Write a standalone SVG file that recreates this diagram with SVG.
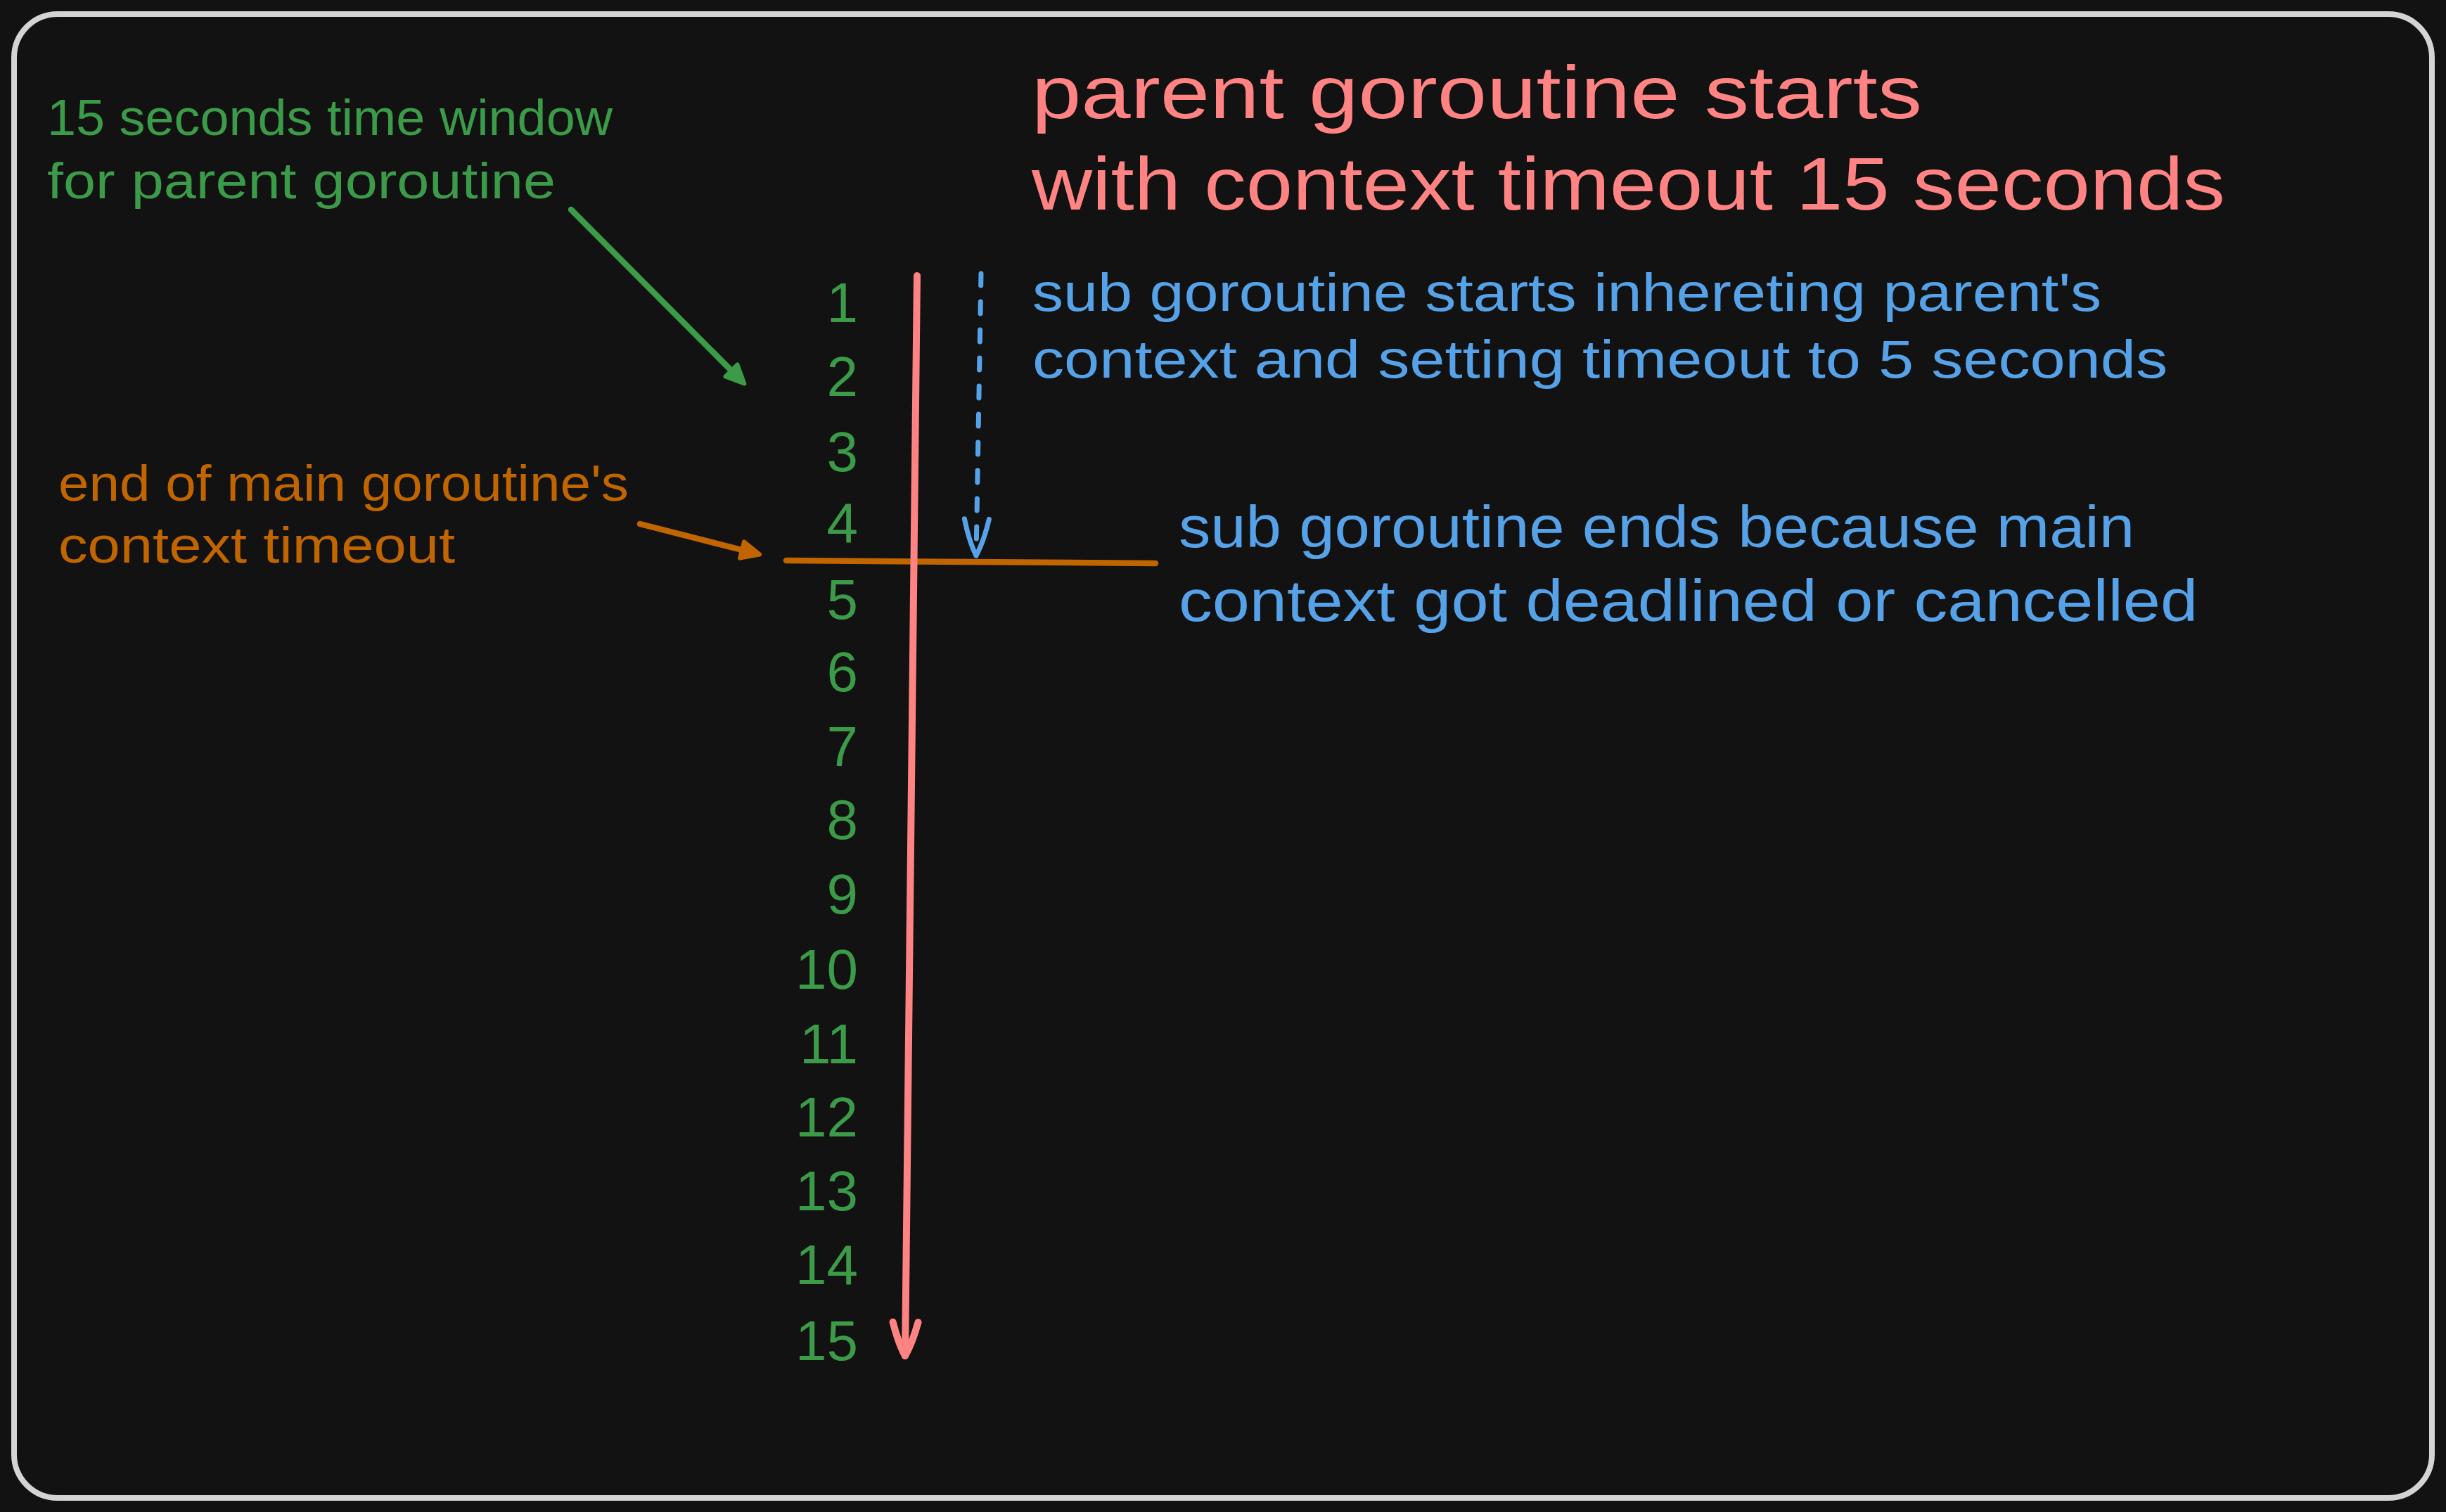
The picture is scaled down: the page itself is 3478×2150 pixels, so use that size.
<svg xmlns="http://www.w3.org/2000/svg" width="3478" height="2150" viewBox="0 0 3478 2150">
  <defs>
    <style>
      text { font-family: "Liberation Sans", "DejaVu Sans", sans-serif; }
      .red { fill: #ff8383; font-size: 106px; }
      .green { fill: #3b9b48; font-size: 72px; }
      .orange { fill: #c06500; font-size: 72px; }
      .blue1 { fill: #56a2e8; font-size: 76px; }
      .blue2 { fill: #56a2e8; font-size: 84px; }
      .num { fill: #3b9b48; font-size: 80px; text-anchor: end; }
      .conn { fill: none; stroke-linecap: round; stroke-linejoin: round; }
    </style>
    <marker id="triGreen" viewBox="0 0 26 24" markerWidth="26" markerHeight="24" refX="0" refY="12" orient="auto" markerUnits="userSpaceOnUse" overflow="visible">
      <path d="M0,0 L26,12 L0,24 Z" fill="#3b9b48" stroke="#3b9b48" stroke-width="6" stroke-linejoin="round"/>
    </marker>
    <marker id="triOrange" viewBox="0 0 26 24" markerWidth="26" markerHeight="24" refX="0" refY="12" orient="auto" markerUnits="userSpaceOnUse" overflow="visible">
      <path d="M0,0 L26,12 L0,24 Z" fill="#c06500" stroke="#c06500" stroke-width="6" stroke-linejoin="round"/>
    </marker>
    <marker id="openRed" viewBox="0 0 48 36" markerWidth="48" markerHeight="36" refX="48" refY="18" orient="auto" markerUnits="userSpaceOnUse" overflow="visible">
      <path d="M0,0 Q30,8 48,18 Q30,28 0,36" fill="none" stroke="#ff8383" stroke-width="10" stroke-linecap="round" stroke-linejoin="round"/>
    </marker>
    <marker id="openBlue" viewBox="0 0 52 35" markerWidth="52" markerHeight="35" refX="52" refY="17.5" orient="auto" markerUnits="userSpaceOnUse" overflow="visible">
      <path d="M0,0 Q32,7 52,17.5 Q32,28 0,35" fill="none" stroke="#56a2e8" stroke-width="7" stroke-linecap="round" stroke-linejoin="round"/>
    </marker>
  </defs>

  <rect x="0" y="0" width="3478" height="2150" fill="#121212"/>
  <rect id="frame" x="20" y="20" width="3438" height="2110" rx="62" ry="62" fill="#121212" stroke="#d4d4d4" stroke-width="8"/>

  <g id="title">
    <text class="red" x="1467" y="168" textLength="1266" lengthAdjust="spacingAndGlyphs">parent goroutine starts</text>
    <text class="red" x="1467" y="298" textLength="1697" lengthAdjust="spacingAndGlyphs">with context timeout 15 seconds</text>
  </g>

  <g id="window-note">
    <text class="green" x="67" y="192" textLength="804" lengthAdjust="spacingAndGlyphs">15 seconds time window</text>
    <text class="green" x="67" y="282" textLength="723" lengthAdjust="spacingAndGlyphs">for parent goroutine</text>
  </g>

  <g id="timeout-note">
    <text class="orange" x="83" y="712" textLength="811" lengthAdjust="spacingAndGlyphs">end of main goroutine's</text>
    <text class="orange" x="83" y="800" textLength="564" lengthAdjust="spacingAndGlyphs">context timeout</text>
  </g>

  <g id="sub-start-note">
    <text class="blue1" x="1468" y="442" textLength="1520" lengthAdjust="spacingAndGlyphs">sub goroutine starts inhereting parent's</text>
    <text class="blue1" x="1468" y="537" textLength="1614" lengthAdjust="spacingAndGlyphs">context and setting timeout to 5 seconds</text>
  </g>

  <g id="sub-end-note">
    <text class="blue2" x="1676" y="778" textLength="1359" lengthAdjust="spacingAndGlyphs">sub goroutine ends because main</text>
    <text class="blue2" x="1676" y="883" textLength="1449" lengthAdjust="spacingAndGlyphs">context got deadlined or cancelled</text>
  </g>

  <g id="seconds">
    <text class="num" x="1220" y="458">1</text>
    <text class="num" x="1220" y="563">2</text>
    <text class="num" x="1220" y="670">3</text>
    <text class="num" x="1220" y="771">4</text>
    <text class="num" x="1220" y="880">5</text>
    <text class="num" x="1220" y="983">6</text>
    <text class="num" x="1220" y="1089">7</text>
    <text class="num" x="1220" y="1193">8</text>
    <text class="num" x="1220" y="1299">9</text>
    <text class="num" x="1220" y="1406">10</text>
    <text class="num" x="1220" y="1512">11</text>
    <text class="num" x="1220" y="1616">12</text>
    <text class="num" x="1220" y="1721">13</text>
    <text class="num" x="1220" y="1826">14</text>
    <text class="num" x="1220" y="1934">15</text>
  </g>

  <g id="connectors">
    <path class="conn" d="M812,298 L1040,527" stroke="#3b9b48" stroke-width="8.5" marker-end="url(#triGreen)"/>
    <path class="conn" d="M910,745 L1055,782" stroke="#c06500" stroke-width="8.5" marker-end="url(#triOrange)"/>
    <path class="conn" d="M1118,797 L1643,801" stroke="#c06500" stroke-width="8.5"/>
    <path class="conn" d="M1304,392 L1287,1928" stroke="#ff8383" stroke-width="10" marker-end="url(#openRed)"/>
    <path class="conn" d="M1395,389 L1388,790" stroke="#56a2e8" stroke-width="7" stroke-dasharray="17 23" marker-end="url(#openBlue)"/>
  </g>
</svg>
